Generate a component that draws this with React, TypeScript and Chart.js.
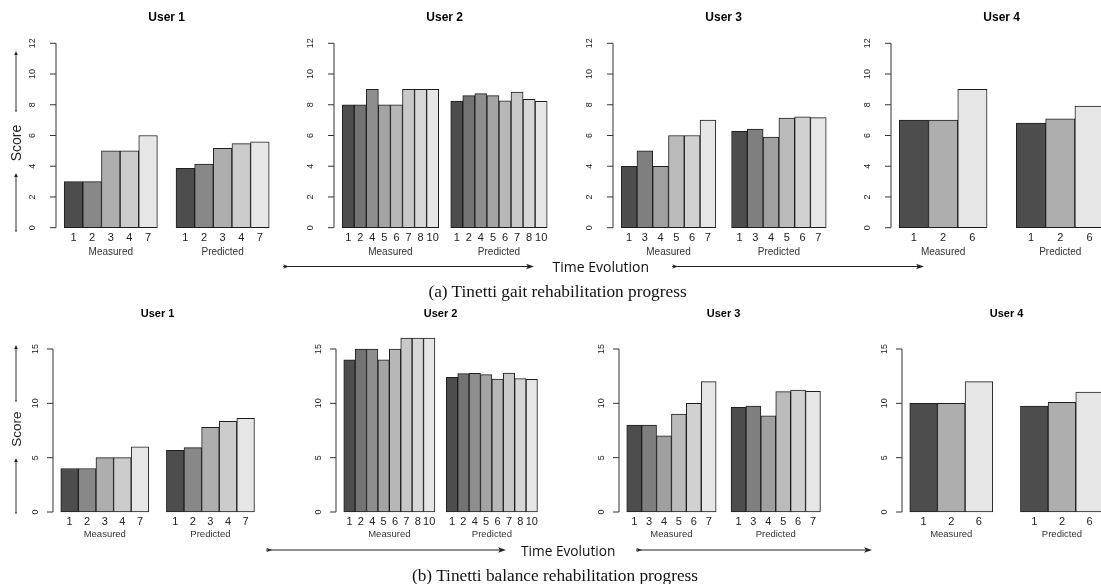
import React, { useEffect, useRef } from "react";
import { Chart, registerables } from "chart.js";

Chart.register(...registerables);

// ---------- (a) Tinetti gait ----------
const gaitU1Sessions = ["1", "2", "3", "4", "7"];
const gaitU1Measured = [3, 3, 5, 5, 6];
const gaitU1Predicted = [3.86, 4.14, 5.16, 5.47, 5.58];

const gaitU2Sessions = ["1", "2", "4", "5", "6", "7", "8", "10"];
const gaitU2Measured = [8, 8, 9, 8, 8, 9, 9, 9];
const gaitU2Predicted = [8.24, 8.59, 8.72, 8.59, 8.26, 8.83, 8.35, 8.22];

const gaitU3Sessions = ["1", "3", "4", "5", "6", "7"];
const gaitU3Measured = [4, 5, 4, 6, 6, 7];
const gaitU3Predicted = [6.27, 6.42, 5.9, 7.14, 7.22, 7.16];

const gaitU4Sessions = ["1", "2", "6"];
const gaitU4Measured = [7, 7, 9];
const gaitU4Predicted = [6.81, 7.09, 7.92];

const gaitYTicks = [0, 2, 4, 6, 8, 10, 12];
const gaitYLimit = 12;

// ---------- (b) Tinetti balance ----------
const balU1Sessions = ["1", "2", "3", "4", "7"];
const balU1Measured = [4, 4, 5, 5, 6];
const balU1Predicted = [5.68, 5.92, 7.79, 8.35, 8.62];

const balU2Sessions = ["1", "2", "4", "5", "6", "7", "8", "10"];
const balU2Measured = [14, 15, 15, 14, 15, 16, 16, 16];
const balU2Predicted = [12.39, 12.73, 12.76, 12.64, 12.24, 12.79, 12.27, 12.21];

const balU3Sessions = ["1", "3", "4", "5", "6", "7"];
const balU3Measured = [8, 8, 7, 9, 10, 12];
const balU3Predicted = [9.63, 9.75, 8.86, 11.07, 11.23, 11.1];

const balU4Sessions = ["1", "2", "6"];
const balU4Measured = [10, 10, 12];
const balU4Predicted = [9.75, 10.09, 11.04];

const balYTicks = [0, 5, 10, 15];
const balYLimit = 16;

const userTitles = ["User 1", "User 2", "User 3", "User 4"];
const groupNames = ["Measured", "Predicted"];
const axisTitle = "Score";
const timeLabel = "Time Evolution";
const captionA = "(a) Tinetti gait rehabilitation progress";
const captionB = "(b) Tinetti balance rehabilitation progress";

// ---------- layout / style ----------
const SANS = '"Liberation Sans", Arial, sans-serif';

type Row = {
  x0: number[];
  span: number;
  yZero: number;
  unit: number;
  canvasTop: number;
  canvasHeight: number;
  titleY: number;
  tickY: number;
  groupY: number;
  titleFont: number;
  tickFont: number;
  groupFont: number;
  yTickFont: number;
  yLabelOffset: number;
};

const rowA: Row = {
  x0: [64, 342.35, 620.7, 899.05],
  span: 205,
  yZero: 227.7,
  unit: 15.367,
  canvasTop: 0,
  canvasHeight: 262,
  titleY: 18,
  tickY: 237.5,
  groupY: 252.5,
  titleFont: 12,
  tickFont: 11,
  groupFont: 10,
  yTickFont: 9,
  yLabelOffset: 23,
};

const rowB: Row = {
  x0: [60.7, 343.8, 626.9, 910],
  span: 193.7,
  yZero: 512,
  unit: 10.867,
  canvasTop: 296,
  canvasHeight: 248,
  titleY: 314,
  tickY: 522,
  groupY: 534.5,
  titleFont: 11,
  tickFont: 11,
  groupFont: 9.5,
  yTickFont: 9,
  yLabelOffset: 17,
};

type PanelData = {
  title: string;
  sessions: string[];
  measured: number[];
  predicted: number[];
  yTicks: number[];
  yLimit: number;
};

const gaitPanels: PanelData[] = [
  { title: userTitles[0], sessions: gaitU1Sessions, measured: gaitU1Measured, predicted: gaitU1Predicted, yTicks: gaitYTicks, yLimit: gaitYLimit },
  { title: userTitles[1], sessions: gaitU2Sessions, measured: gaitU2Measured, predicted: gaitU2Predicted, yTicks: gaitYTicks, yLimit: gaitYLimit },
  { title: userTitles[2], sessions: gaitU3Sessions, measured: gaitU3Measured, predicted: gaitU3Predicted, yTicks: gaitYTicks, yLimit: gaitYLimit },
  { title: userTitles[3], sessions: gaitU4Sessions, measured: gaitU4Measured, predicted: gaitU4Predicted, yTicks: gaitYTicks, yLimit: gaitYLimit },
];

const balPanels: PanelData[] = [
  { title: userTitles[0], sessions: balU1Sessions, measured: balU1Measured, predicted: balU1Predicted, yTicks: balYTicks, yLimit: balYLimit },
  { title: userTitles[1], sessions: balU2Sessions, measured: balU2Measured, predicted: balU2Predicted, yTicks: balYTicks, yLimit: balYLimit },
  { title: userTitles[2], sessions: balU3Sessions, measured: balU3Measured, predicted: balU3Predicted, yTicks: balYTicks, yLimit: balYLimit },
  { title: userTitles[3], sessions: balU4Sessions, measured: balU4Measured, predicted: balU4Predicted, yTicks: balYTicks, yLimit: balYLimit },
];

// R's gray.colors(n) palette (start 0.3, end 0.9, gamma 2.2)
function grayColors(n: number): string[] {
  const a = Math.pow(0.3, 2.2);
  const b = Math.pow(0.9, 2.2);
  const out: string[] = [];
  for (let i = 0; i < n; i++) {
    const t = n === 1 ? a : a + ((b - a) * i) / (n - 1);
    const g = Math.round(Math.pow(t, 1 / 2.2) * 255);
    out.push(`rgb(${g},${g},${g})`);
  }
  return out;
}

function Panel({ p, row, index }: { p: PanelData; row: Row; index: number }) {
  const ref = useRef<HTMLCanvasElement>(null);

  const x0 = row.x0[index];
  const plotLeft = x0 - 0.04 * row.span;
  const plotRight = x0 + 1.04 * row.span;
  const plotTop = row.yZero - 1.04 * p.yLimit * row.unit;
  const plotBottom = row.yZero + 0.04 * p.yLimit * row.unit;
  const canvasLeft = plotLeft - 50;
  const canvasWidth = Math.ceil(plotRight - plotLeft + 60);
  const canvasTop = row.canvasTop;
  const canvasHeight = row.canvasHeight;

  useEffect(() => {
    if (!ref.current) return;
    const n = p.sessions.length;
    const T = n + 1 + n;
    const centers = [
      ...p.sessions.map((_, i) => i + 0.5),
      ...p.sessions.map((_, i) => n + 1 + i + 0.5),
    ];
    const labels = [...p.sessions, ...p.sessions];
    const values = [...p.measured, ...p.predicted];
    const shades = grayColors(n);
    const colors = [...shades, ...shades];
    const groupCenters = [n / 2, n + 1 + n / 2];

    const decor = {
      id: "panelDecor",
      afterDatasetsDraw(chart: any) {
        const { ctx, chartArea } = chart;
        const xs = chart.scales.x;
        const ys = chart.scales.y;
        ctx.save();
        // y axis (R style)
        const ax = chartArea.left;
        const yA = ys.getPixelForValue(p.yTicks[0]);
        const yB = ys.getPixelForValue(p.yTicks[p.yTicks.length - 1]);
        ctx.strokeStyle = "#333";
        ctx.lineWidth = 1;
        ctx.beginPath();
        ctx.moveTo(ax, yA);
        ctx.lineTo(ax, yB);
        p.yTicks.forEach((t) => {
          const py = ys.getPixelForValue(t);
          ctx.moveTo(ax, py);
          ctx.lineTo(ax - 6, py);
        });
        ctx.stroke();
        ctx.fillStyle = "#222";
        ctx.font = `${row.yTickFont}px ${SANS}`;
        ctx.textAlign = "center";
        ctx.textBaseline = "middle";
        p.yTicks.forEach((t) => {
          const py = ys.getPixelForValue(t);
          ctx.save();
          ctx.translate(ax - row.yLabelOffset, py);
          ctx.rotate(-Math.PI / 2);
          ctx.fillText(String(t), 0, 0);
          ctx.restore();
        });
        // bar labels
        ctx.font = `${row.tickFont}px ${SANS}`;
        ctx.fillStyle = "#222";
        centers.forEach((c, i) => {
          ctx.fillText(labels[i], xs.getPixelForValue(c), row.tickY - canvasTop);
        });
        // group labels
        ctx.font = `${row.groupFont}px ${SANS}`;
        ctx.fillStyle = "#333";
        groupCenters.forEach((g, i) => {
          ctx.fillText(groupNames[i], xs.getPixelForValue(g), row.groupY - canvasTop);
        });
        // title
        ctx.font = `bold ${row.titleFont}px ${SANS}`;
        ctx.fillStyle = "#000";
        ctx.fillText(p.title, (chartArea.left + chartArea.right) / 2, row.titleY - canvasTop);
        ctx.restore();
      },
    };

    const chart = new Chart(ref.current, {
      type: "bar",
      data: {
        datasets: [
          {
            data: centers.map((c, i) => ({ x: c, y: values[i] })),
            backgroundColor: colors,
            borderColor: "#1e1e1e",
            borderWidth: 1,
            borderSkipped: false,
            barPercentage: 1,
            categoryPercentage: 1,
          } as any,
        ],
      },
      options: {
        animation: false,
        responsive: false,
        devicePixelRatio: 1,
        layout: {
          padding: {
            left: plotLeft - canvasLeft,
            right: canvasLeft + canvasWidth - plotRight,
            top: plotTop - canvasTop,
            bottom: canvasTop + canvasHeight - plotBottom,
          },
        },
        plugins: {
          legend: { display: false },
          tooltip: { enabled: false },
          title: { display: false },
        },
        scales: {
          x: {
            type: "linear",
            min: -0.04 * T,
            max: 1.04 * T,
            offset: false,
            grace: 0,
            display: false,
            afterBuildTicks: (s: any) => {
              s.ticks = centers.map((v) => ({ value: v }));
            },
          },
          y: {
            type: "linear",
            min: -0.04 * p.yLimit,
            max: 1.04 * p.yLimit,
            offset: false,
            display: false,
          },
        },
      } as any,
      plugins: [decor as any],
    });
    return () => chart.destroy();
  }, []);

  return (
    <canvas
      ref={ref}
      width={canvasWidth}
      height={canvasHeight}
      style={{
        position: "absolute",
        left: canvasLeft,
        top: canvasTop,
        width: canvasWidth,
        height: canvasHeight,
      }}
    />
  );
}

function UpArrow({ x, y1, y2 }: { x: number; y1: number; y2: number }) {
  return (
    <g>
      <line x1={x} y1={y1 + 2} x2={x} y2={y2} stroke="#333" strokeWidth={1} />
      <polygon points={`${x},${y1} ${x - 1.8},${y1 + 4} ${x + 1.8},${y1 + 4}`} fill="#222" />
      <line x1={x - 1} y1={y2} x2={x + 1} y2={y2} stroke="#333" strokeWidth={1} />
    </g>
  );
}

function RightArrow({ x1, x2, y }: { x1: number; x2: number; y: number }) {
  return (
    <g>
      <line x1={x1} y1={y} x2={x2 - 5} y2={y} stroke="#222" strokeWidth={1} />
      <polygon points={`${x1 + 6},${y} ${x1},${y - 2.2} ${x1 + 2},${y} ${x1},${y + 2.2}`} fill="#222" />
      <polygon points={`${x2},${y} ${x2 - 8},${y - 2.8} ${x2 - 6},${y} ${x2 - 8},${y + 2.8}`} fill="#222" />
    </g>
  );
}

export default function App() {
  return (
    <div
      style={{
        position: "absolute",
        left: 0,
        top: 0,
        width: 1101,
        height: 584,
        overflow: "hidden",
        background: "#fff",
      }}
    >
      {gaitPanels.map((p, i) => (
        <Panel key={"a" + i} p={p} row={rowA} index={i} />
      ))}
      {balPanels.map((p, i) => (
        <Panel key={"b" + i} p={p} row={rowB} index={i} />
      ))}
      <svg
        width={1101}
        height={584}
        style={{ position: "absolute", left: 0, top: 0, pointerEvents: "none" }}
      >
        <UpArrow x={16} y1={51} y2={111} />
        <UpArrow x={16} y1={173} y2={231} />
        <text
          x={0}
          y={0}
          transform="translate(16,143) rotate(-90)"
          textAnchor="middle"
          dominantBaseline="central"
          style={{ font: `14px ${SANS}`, fill: "#222" }}
        >
          {axisTitle}
        </text>
        <UpArrow x={16} y1={345} y2={401} />
        <UpArrow x={16} y1={458} y2={513} />
        <text
          x={0}
          y={0}
          transform="translate(16,429) rotate(-90)"
          textAnchor="middle"
          dominantBaseline="central"
          style={{ font: `13.5px ${SANS}`, fill: "#222" }}
        >
          {axisTitle}
        </text>

        <RightArrow x1={283} x2={534} y={266.5} />
        <text x={552.5} y={266.5} dominantBaseline="central" style={{ font: `14px "Open Sans", sans-serif`, fill: "#111" }}>
          {timeLabel}
        </text>
        <RightArrow x1={672} x2={924} y={266.5} />

        <RightArrow x1={266} x2={506} y={550} />
        <text x={521} y={550} dominantBaseline="central" style={{ font: `13.7px "Open Sans", sans-serif`, fill: "#111" }}>
          {timeLabel}
        </text>
        <RightArrow x1={636} x2={872} y={550} />

        <text x={557.5} y={291} textAnchor="middle" dominantBaseline="central" style={{ font: `17.3px "Liberation Serif", "Times New Roman", serif`, fill: "#111" }}>
          {captionA}
        </text>
        <text x={555} y={575} textAnchor="middle" dominantBaseline="central" style={{ font: `17.3px "Liberation Serif", "Times New Roman", serif`, fill: "#111" }}>
          {captionB}
        </text>
      </svg>
    </div>
  );
}
